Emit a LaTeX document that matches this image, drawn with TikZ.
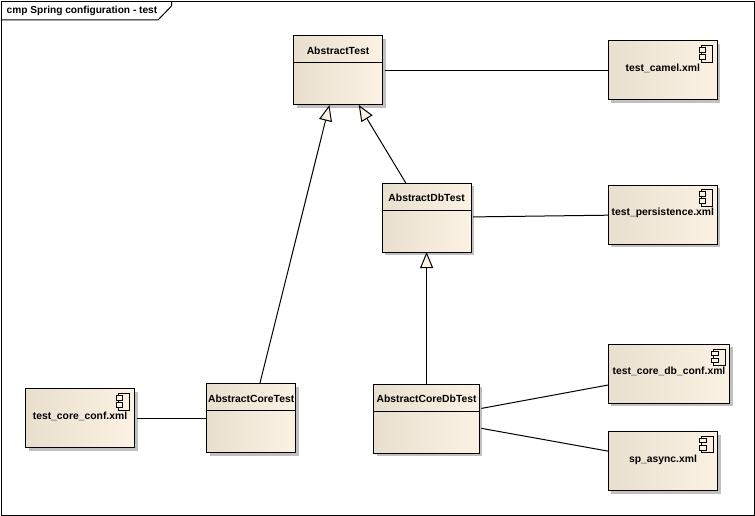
\documentclass[tikz,border=0pt]{standalone}
\usepackage{fontspec}
\setmainfont{Liberation Sans}
\usetikzlibrary{arrows.meta,shadows}
\definecolor{boxleft}{HTML}{E8DFCF}
\definecolor{boxright}{HTML}{FBF2E3}
\definecolor{boxshadow}{HTML}{C0C0C0}
\begin{document}
\begin{tikzpicture}[
  x=1pt, y=-1pt,
  every node/.style = {font=\fontsize{10.35}{12}\selectfont\bfseries, inner sep=0pt, outer sep=0pt},
  box/.style = {shape=rectangle, draw, line width=1pt, align=center,
    left color=boxleft, middle color=boxright, right color=boxright,
    drop shadow={shadow xshift=3pt, shadow yshift=-3pt, fill=boxshadow, opacity=1}},
  classbox/.style = {box, text height=18.7pt, text depth=50.3pt},
  compbox/.style = {box, text height=30.5pt, text depth=28.5pt},
  link/.style = {line width=1pt, shorten <=2pt},
  extends/.style = {line width=1pt, -{Triangle[length=16pt, width=13pt, line width=1pt, fill=boxright]}}
]
  \useasboundingbox (0,0) rectangle (755,516);

  % frame and its tab
  \node (frame) at (377.75,258.25) [draw, line width=1pt, minimum width=752.5pt, minimum height=513.5pt] {};
  \node (frameTitle) at (6.7,14) [anchor=base west, font=\fontsize{10.15}{12}\selectfont\bfseries] {cmp Spring configuration - test};
  \draw[line width=1pt] ([yshift=-18.5pt]frame.north west) -- +(156.5,0) -- +(170,-14) -- ([xshift=170pt]frame.north west);

  % classes
  \node (abstractTest) at (338,70.5) [classbox, minimum width=89pt] {AbstractTest};
  \node (abstractDbTest) at (426.6,217.5) [classbox, minimum width=89pt] {AbstractDbTest};
  \node (abstractCoreTest) at (251.2,418.2) [classbox, minimum width=89pt] {AbstractCoreTest};
  \node (abstractCoreDbTest) at (426.6,418.5) [classbox, minimum width=105.6pt] {AbstractCoreDbTest};

  % components
  \node (testCamel) at (662.8,70.5) [compbox, minimum width=109pt] {test\_camel.xml};
  \node (testPersistence) at (662.8,214.5) [compbox, minimum width=109pt] {test\_persistence.xml};
  \node (testCoreDbConf) at (669,373.8) [compbox, minimum width=121.5pt] {test\_core\_db\_conf.xml};
  \node (spAsync) at (663,461) [compbox, minimum width=109.5pt] {sp\_async.xml};
  \node (testCoreConf) at (80,418.2) [compbox, minimum width=109pt] {test\_core\_conf.xml};

  \foreach \cls in {abstractTest,abstractDbTest,abstractCoreTest,abstractCoreDbTest}
    \draw[line width=1pt] ([yshift=-27pt]\cls.north west) -- ([yshift=-27pt]\cls.north east);

  % component icon
  \foreach \comp in {testCamel,testPersistence,testCoreDbConf,spAsync,testCoreConf} {
    \draw[line width=1pt] ([shift={(-16.3pt,-4.7pt)}]\comp.north east) rectangle ([shift={(-4.6pt,-21.4pt)}]\comp.north east);
    \draw[line width=1pt, fill=boxright] ([shift={(-18pt,-6.7pt)}]\comp.north east) rectangle ([shift={(-11.6pt,-11.4pt)}]\comp.north east);
    \draw[line width=1pt, fill=boxright] ([shift={(-18pt,-13.9pt)}]\comp.north east) rectangle ([shift={(-11.6pt,-18.6pt)}]\comp.north east);
  }

  \draw[extends] (abstractCoreTest) -- (abstractTest);
  \draw[extends] (abstractDbTest) -- (abstractTest);
  \draw[extends] (abstractCoreDbTest) -- (abstractDbTest);

  \draw[link] (abstractTest) -- (testCamel);
  \draw[link] (abstractDbTest) -- (testPersistence);
  \draw[link] (testCoreConf) -- (abstractCoreTest);
  \draw[link] (abstractCoreDbTest) -- (testCoreDbConf);
  \draw[link] (abstractCoreDbTest) -- (spAsync);
\end{tikzpicture}
\end{document}
